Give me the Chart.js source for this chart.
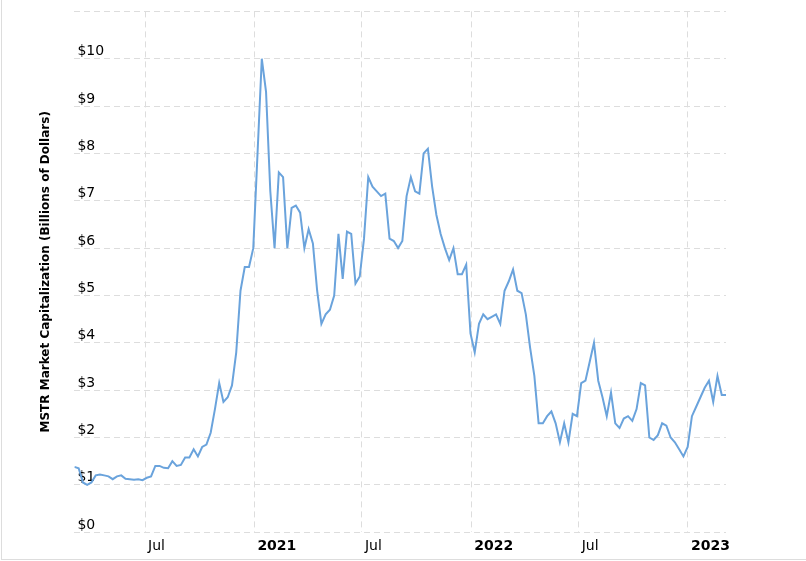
<!DOCTYPE html>
<html><head><meta charset="utf-8">
<script src="https://cdn.jsdelivr.net/npm/chart.js@4"></script>
<style>html,body{margin:0;padding:0;background:#fff}#wrap{position:relative;width:806px;height:561px}
#frame{position:absolute;left:1px;top:0;width:805px;height:559px;border-left:1px solid #ddd;border-bottom:1px solid #ddd;pointer-events:none}</style>
</head><body><div id="wrap"><canvas id="c" width="806" height="561"></canvas><div id="frame"></div></div>
<script>
const startDate = '2020-03-04';
const endDate = '2023-03-06';
const values = [1.38,1.35,1.05,1.0,1.05,1.2,1.22,1.2,1.18,1.12,1.18,1.2,1.13,1.12,1.11,1.12,1.1,1.15,1.18,1.4,1.4,1.36,1.35,1.5,1.4,1.42,1.58,1.58,1.75,1.6,1.8,1.85,2.1,2.6,3.15,2.75,2.85,3.1,3.8,5.1,5.6,5.6,6.0,8.0,10.0,9.3,7.2,6.0,7.6,7.5,6.0,6.85,6.9,6.75,6.0,6.4,6.1,5.1,4.4,4.6,4.7,5.0,6.3,5.35,6.35,6.3,5.25,5.4,6.2,7.5,7.3,7.2,7.1,7.15,6.2,6.15,6.0,6.15,7.1,7.5,7.2,7.15,8.0,8.1,7.3,6.7,6.3,6.0,5.75,6.0,5.45,5.45,5.65,4.2,3.8,4.4,4.6,4.5,4.55,4.6,4.4,5.1,5.3,5.55,5.1,5.05,4.6,3.9,3.3,2.3,2.3,2.45,2.55,2.3,1.9,2.3,1.9,2.5,2.45,3.15,3.2,3.6,4.0,3.2,2.85,2.45,2.95,2.3,2.2,2.4,2.45,2.35,2.6,3.15,3.1,2.0,1.95,2.05,2.3,2.25,2.0,1.9,1.75,1.6,1.8,2.45,2.65,2.85,3.05,3.2,2.75,3.3,2.9,2.9];
const tickDates = ['2020-07-01','2021-01-01','2021-07-01','2022-01-01','2022-07-01','2023-01-01'];
const tickLabels = ['Jul','2021','Jul','2022','Jul','2023'];
const yTicks = [0,1,2,3,4,5,6,7,8,9,10,11];

const t0 = Date.parse(startDate), t1 = Date.parse(endDate), n = values.length;
const pos = d => (Date.parse(d) - t0) / (t1 - t0) * (n - 1);
const data = values.map((v, i) => ({x: i, y: v}));
const tickPos = tickDates.map(pos);

new Chart(document.getElementById('c'), {
  type: 'line',
  data: {datasets: [{data, borderColor: '#6aa3dc', borderWidth: 2, pointRadius: 0, tension: 0, fill: false}]},
  options: {
    responsive: false, animation: false,
    layout: {padding: {left: 39, right: 80, top: 3, bottom: 0}},
    plugins: {legend: {display: false}, tooltip: {enabled: false}},
    scales: {
      x: {
        type: 'linear', min: 0, max: n - 1,
        afterBuildTicks: ax => { ax.ticks = tickPos.map(v => ({value: v})); },
        ticks: {
          autoSkip: false, maxRotation: 0, align: 'start', padding: 6, labelOffset: 3,
          color: '#000',
          callback: (v, i) => tickLabels[i],
          font: ctx => ({family: 'DejaVu Sans', size: 14, weight: /^\d{4}$/.test(tickLabels[ctx.index] || '') ? 'bold' : 'normal'})
        },
        grid: {color: '#dddddd', drawTicks: false, tickLength: 0},
        border: {display: false, dash: [6, 4]}
      },
      y: {
        min: 0, max: 11,
        afterBuildTicks: ax => { ax.ticks = yTicks.map(v => ({value: v})); },
        ticks: {mirror: true, padding: 3, labelOffset: -7, color: '#000',
          font: {family: 'DejaVu Sans', size: 14},
          callback: v => v === 11 ? '' : '$' + v},
        grid: {color: '#dddddd', drawTicks: false},
        border: {display: false, dash: [6, 4]},
        title: {display: true, text: 'MSTR Market Capitalization (Billions of Dollars)', color: '#000',
          font: {family: 'DejaVu Sans', size: 12, weight: 'bold'}, padding: {top: 0, bottom: 15}}
      }
    }
  }
});
</script></body></html>
